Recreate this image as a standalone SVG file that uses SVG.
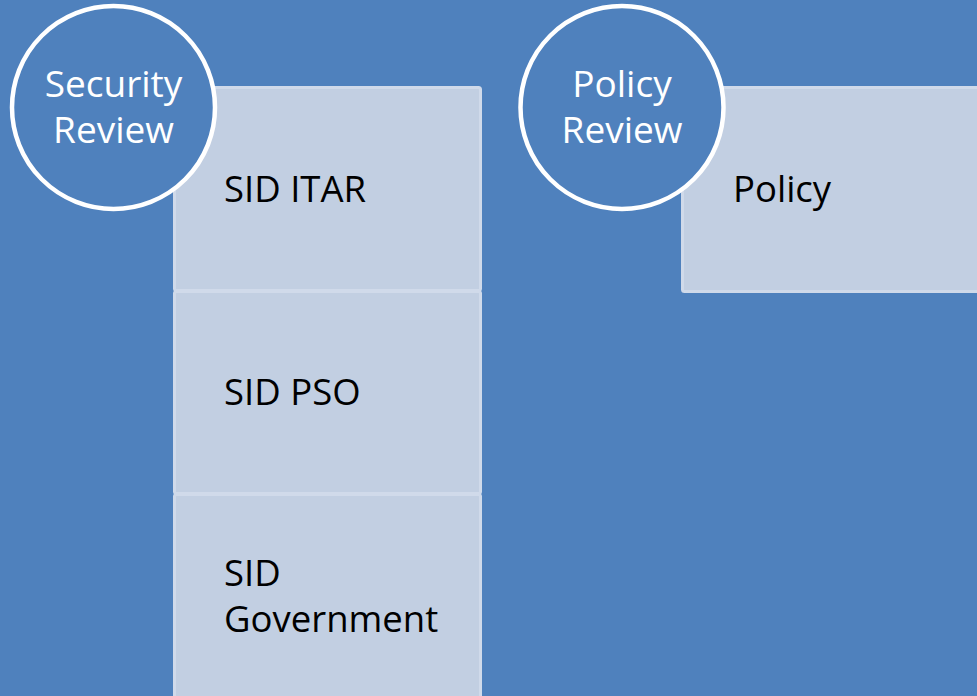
<svg xmlns="http://www.w3.org/2000/svg" width="977" height="696" viewBox="0 0 977 696">
<style>
.box{fill:#C2CFE2;stroke:#D0DAEA;stroke-width:3}
.circ{fill:#4F81BD;stroke:#FFFFFF;stroke-width:4.5}
.t{font-family:"Open Sans","Noto Sans",sans-serif;font-size:36.5px;fill:#000000}
.ct{font-family:"Open Sans","Noto Sans",sans-serif;font-size:37px;fill:#FFFFFF;text-anchor:middle}
</style>
<rect x="0" y="0" width="977" height="696" fill="#4F81BD"/>
<g id="connectors"></g>
<g id="sid-itar"><rect class="box" x="174.5" y="87.5" width="306" height="203" rx="2"/><text class="t" x="224" y="202">SID ITAR</text></g>
<g id="sid-pso"><rect class="box" x="174.5" y="291.5" width="306" height="202" rx="2"/><text class="t" x="224" y="405">SID PSO</text></g>
<g id="sid-government"><rect class="box" x="174.5" y="494.5" width="306" height="210" rx="2"/><text class="t" x="224" y="586">SID</text><text class="t" x="224" y="632">Government</text></g>
<g id="policy"><rect class="box" x="682.5" y="87.5" width="304" height="204" rx="2"/><text class="t" x="733" y="202">Policy</text></g>
<g id="security-review"><circle class="circ" cx="113.5" cy="107.5" r="101.5"/><text class="ct" x="113.5" y="97">Security</text><text class="ct" x="113.5" y="143">Review</text></g>
<g id="policy-review"><circle class="circ" cx="622" cy="107.5" r="101.5"/><text class="ct" x="622" y="97">Policy</text><text class="ct" x="622" y="143">Review</text></g>
</svg>
